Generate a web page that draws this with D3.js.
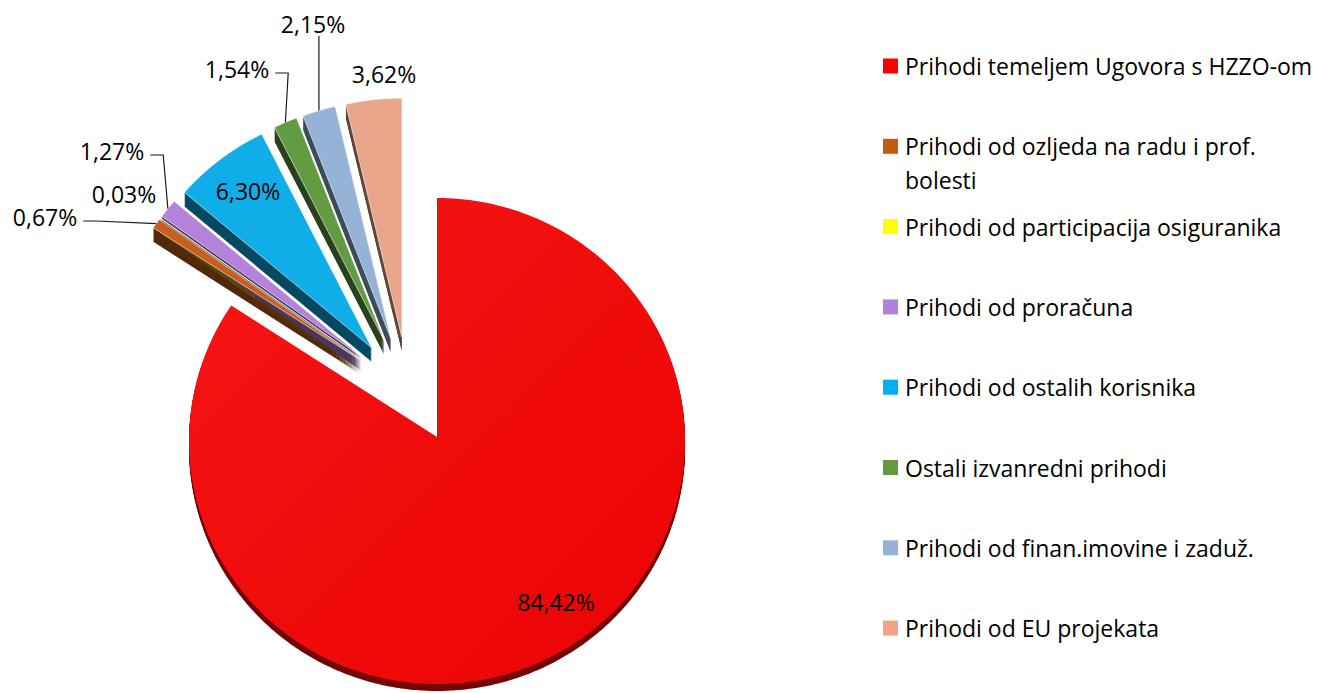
<!DOCTYPE html>
<html>
<head>
<meta charset="utf-8">
<script src="https://cdn.jsdelivr.net/npm/d3@7"></script>
<style>
  body { margin: 0; background: #fff; }
  svg { display: block; }
  text { font-family: 'Open Sans', sans-serif; }
</style>
</head>
<body>
<svg id="chart" width="1319" height="693"></svg>
<script>
// Data
const categories = [
    'Prihodi temeljem Ugovora s HZZO-om',
    'Prihodi od ozljeda na radu i prof.\nbolesti',
    'Prihodi od participacija osiguranika',
    'Prihodi od proračuna',
    'Prihodi od ostalih korisnika',
    'Ostali izvanredni prihodi',
    'Prihodi od finan.imovine i zaduž.',
    'Prihodi od EU projekata',
]
const values = [84.42, 0.67, 0.03, 1.27, 6.30, 1.54, 2.15, 3.62]

// Styles
const legendColors = ['#FF0000', '#C55A11', '#FFFF00', '#B281DB', '#00B0F0', '#63993F', '#95B3D7', '#F2A582']
const faceColors = ['#F00A0A', '#C6601C', '#FFFF00', '#B383DB', '#0FAEE9', '#629B41', '#95B3D7', '#E9A68A']

// Label layout (text centres) and whether a leader line is drawn
const labelPos = [[556, 602], [45, 217], [124, 194], [112, 151], [248, 191], [237, 69], [313, 24], [384, 74]]
const hasLeader = [false, true, false, true, false, true, true, false]

const width = 1319
const height = 693
const fontSize = 23

// pie geometry
const center = { x: 408.6, y: 390 }
const rx = 248
const ry = 243
const arcDy = 4
const explode = 60.5
const explodeKy = 0.88

const svg = d3.select('#chart')
svg.selectAll('*').remove()

const defs = svg.append('defs')
const grad = defs.append('linearGradient')
    .attr('id', 'redFace')
    .attr('x1', '0%').attr('y1', '0%')
    .attr('x2', '100%').attr('y2', '100%')
grad.append('stop').attr('offset', '0%').attr('stop-color', '#F71515')
grad.append('stop').attr('offset', '100%').attr('stop-color', '#EB0303')

const arcs = d3.pie().sort(null).value(d => d)(values)

arcs.forEach((a, i) => {
    const mid = (a.startAngle + a.endAngle) / 2
    a.mid = mid
    a.apex = [center.x + explode * Math.sin(mid), center.y - explode * Math.cos(mid) * explodeKy]
    a.depth = i === 0 ? 7 : 14
})

function rimPoint(a, t, dz) {
    return [a.apex[0] + rx * Math.sin(t), a.apex[1] - ry * Math.cos(t) + arcDy + dz]
}

function facePoints(a, dz) {
    const pts = [[a.apex[0], a.apex[1] + dz]]
    const n = Math.max(2, Math.ceil((a.endAngle - a.startAngle) / 0.01))
    for (let k = 0; k <= n; k++) {
        const t = a.startAngle + (a.endAngle - a.startAngle) * k / n
        pts.push(rimPoint(a, t, dz))
    }
    return pts
}

const line = d3.line()

// 1. Side walls (stacked copies of the face, darker)
const sides = svg.append('g').attr('class', 'sides')
arcs.forEach((a, i) => {
    const sideColor = d3.color(faceColors[i]).darker(i === 0 ? 2 : 2.4).formatHex()
    for (let dz = a.depth; dz >= 1; dz--) {
        sides.append('path')
            .attr('d', line(facePoints(a, dz)) + 'Z')
            .attr('fill', sideColor)
    }
})

// 2. Top faces
svg.append('g').attr('class', 'faces')
    .selectAll('path')
    .data(arcs)
    .join('path')
    .attr('d', d => line(facePoints(d, 0)) + 'Z')
    .attr('fill', (d, i) => i === 0 ? 'url(#redFace)' : faceColors[i])
    .attr('stroke', (d, i) => i === 0 ? 'none' : '#fff')
    .attr('stroke-width', 0.6)

// 3. Labels
const fmt = v => v.toFixed(2).replace('.', ',') + '%'
const labels = svg.append('g').attr('class', 'labels')
arcs.forEach((a, i) => {
    const [lx, ly] = labelPos[i]
    const t = labels.append('text')
        .attr('x', lx)
        .attr('y', ly)
        .attr('text-anchor', 'middle')
        .attr('dominant-baseline', 'central')
        .attr('font-size', fontSize)
        .attr('fill', '#000')
        .text(fmt(values[i]))

    if (!hasLeader[i]) return
    const w = t.node().getComputedTextLength()
    const p = rimPoint(a, a.mid, 0)
    let pts
    if (Math.abs(p[0] - lx) < w / 2) {
        // label sits above the slice: straight down
        pts = [[p[0], ly + 12], p]
    } else {
        const sx = lx + w / 2 + 6
        pts = [[sx, ly + 4], [sx + 13, ly + 4], p]
    }
    labels.append('path')
        .attr('d', line(pts))
        .attr('fill', 'none')
        .attr('stroke', '#1a1a1a')
        .attr('stroke-width', 1.2)
})

// 4. Legend
const legendX = 883
const legendY0 = 66
const legendStep = 80.3
const legend = svg.append('g').attr('class', 'legend')
categories.forEach((c, i) => {
    const y = legendY0 + i * legendStep
    legend.append('rect')
        .attr('x', legendX)
        .attr('y', y - 7.5)
        .attr('width', 15)
        .attr('height', 15)
        .attr('fill', legendColors[i])
    const txt = legend.append('text')
        .attr('x', legendX + 22)
        .attr('y', y)
        .attr('font-size', fontSize)
        .attr('fill', '#000')
    c.split('\n').forEach((ln, j) => {
        txt.append('tspan')
            .attr('x', legendX + 22)
            .attr('y', y + j * 34)
            .attr('dominant-baseline', 'central')
            .text(ln)
    })
})
</script>
</body>
</html>
